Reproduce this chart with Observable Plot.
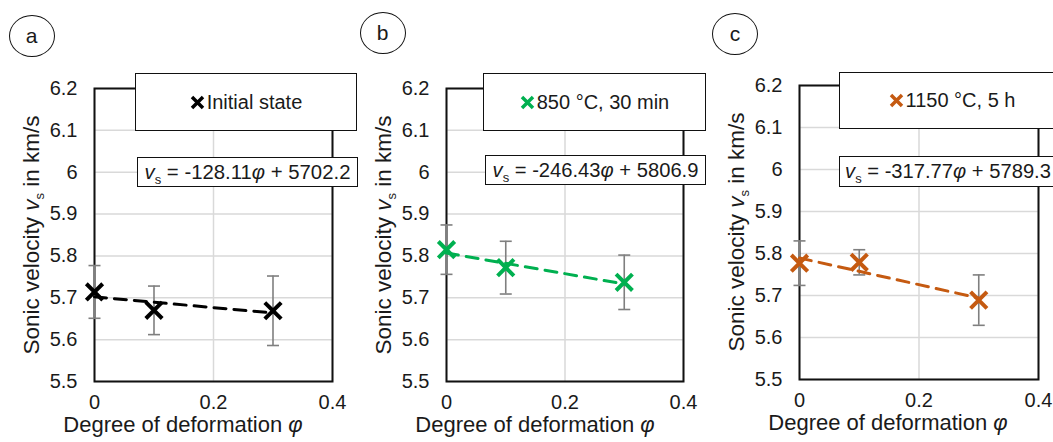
<!DOCTYPE html>
<html>
<head>
<meta charset="utf-8">
<script src="https://cdn.jsdelivr.net/npm/d3@7"></script>
<script src="https://cdn.jsdelivr.net/npm/@observablehq/plot@0.6"></script>
<style>
  html, body { margin: 0; padding: 0; background: #fff; overflow: hidden; }
  #wrap { position: relative; width: 1053px; height: 442px; overflow: hidden;
          font-family: "Liberation Sans", Arial, sans-serif; color: #1a1a1a; }
  .plot { position: absolute; }
  .panelTag { position: absolute; border: 1.6px solid #111; border-radius: 50%;
              display: flex; align-items: center; justify-content: center; font-size: 21px;
              box-sizing: border-box; transform: translate(-50%, -50%); }
  .legend { position: absolute; background: #fff; border: 1.6px solid #111; box-sizing: border-box;
            display: flex; align-items: center; justify-content: center; font-size: 20px; white-space: nowrap; }
  .legend svg { margin-right: 2px; }
  .eq { position: absolute; background: #fff; border: 1.6px solid #111; box-sizing: border-box;
        display: flex; align-items: center; justify-content: center; font-size: 20px;
        white-space: nowrap; }
  .sub { font-size: 13px; position: relative; top: 5px; }
  .ylab { position: absolute; white-space: nowrap; font-size: 22.5px; line-height: 1;
          transform: translate(-50%, -50%) rotate(-90deg); }
  .xlab { position: absolute; white-space: nowrap; font-size: 22px; line-height: 1;
          transform: translateX(-50%); }
</style>
</head>
<body>
<div id="wrap"></div>
<script>
// ---- data ----
const phi = [0, 0.1, 0.3];
const xTicks = [0, 0.2, 0.4];
const yTicks = [5.5, 5.6, 5.7, 5.8, 5.9, 6.0, 6.1, 6.2];

const seriesNames = ["Initial state", "850 °C, 30 min", "1150 °C, 5 h"];
const seriesColors = ["#000000", "#00B050", "#C55A11"];
const panelTags = ["a", "b", "c"];

const vInitial = [5.714, 5.670, 5.669];
const errInitial = [0.063, 0.058, 0.083];
const v850 = [5.815, 5.772, 5.737];
const err850 = [0.059, 0.063, 0.065];
const v1150 = [5.777, 5.779, 5.689];
const err1150 = [0.053, 0.030, 0.060];

const slopes = [-128.11, -246.43, -317.77];       // m/s per unit phi
const intercepts = [5702.2, 5806.9, 5789.3];      // m/s
const eqSlopeText = ["-128.11", "-246.43", "-317.77"];
const eqInterceptText = ["5702.2", "5806.9", "5789.3"];

const values = [vInitial, v850, v1150];
const errors = [errInitial, err850, err1150];

// ---- layout (page pixels) ----
const frames = [
  {left: 94, right: 332, top: 88, bottom: 381},
  {left: 446, right: 683, top: 88, bottom: 381},
  {left: 799, right: 1038, top: 85, bottom: 379}
];
const tagPos = [[31.7, 36], [382.5, 32.5], [735, 34]];
const legendBox = [[135, 73, 222, 58], [483, 73, 223, 58], [839, 72, 226, 57]];
const eqBox = [[137, 157, 221, 30], [485, 155, 221, 30], [839, 156, 218, 31]];
const eqTextWidth = 206;

const wrap = document.getElementById("wrap");
const fmt = d3.format("~g");
const mL = 70, mR = 12, mT = 12, mB = 45;

const capSymbol = { draw(ctx) { ctx.moveTo(-6, 0); ctx.lineTo(6, 0); } };

function el(cls, html, style) {
  const d = document.createElement("div");
  d.className = cls;
  d.innerHTML = html;
  Object.assign(d.style, style);
  wrap.appendChild(d);
  return d;
}

for (let k = 0; k < 3; k++) {
  const fr = frames[k];
  const color = seriesColors[k];
  const data = phi.map((p, i) => ({phi: p, v: values[k][i], e: errors[k][i]}));
  const trendX = [phi[0], phi[phi.length - 1]];
  const trend = trendX.map(p => ({phi: p, v: (slopes[k] * p + intercepts[k]) / 1000}));
  const W = fr.right - fr.left, H = fr.bottom - fr.top;

  const chart = Plot.plot({
    width: W + mL + mR,
    height: H + mT + mB,
    marginLeft: mL, marginRight: mR, marginTop: mT, marginBottom: mB,
    style: {fontFamily: '"Liberation Sans", Arial, sans-serif', fontSize: "20px",
            color: "#1a1a1a", background: "transparent", overflow: "visible"},
    x: {domain: [0, 0.4], ticks: xTicks, tickFormat: fmt, tickSize: 0, tickPadding: 13, label: null},
    y: {domain: [5.5, 6.2], ticks: yTicks, tickFormat: fmt, tickSize: 0, tickPadding: 17, label: null},
    marks: [
      Plot.gridY(yTicks, {stroke: "#d9d9d9", strokeOpacity: 1, strokeWidth: 1.5}),
      Plot.gridX(xTicks, {stroke: "#d9d9d9", strokeOpacity: 1, strokeWidth: 1.5}),
      Plot.frame({stroke: "#111", strokeWidth: 2}),
      Plot.ruleX(data, {x: "phi", y1: d => d.v - d.e, y2: d => d.v + d.e, stroke: "#7f7f7f", strokeWidth: 1.6}),
      Plot.dot(data, {x: "phi", y: d => d.v - d.e, symbol: capSymbol, fill: "none", stroke: "#7f7f7f", strokeWidth: 1.6}),
      Plot.dot(data, {x: "phi", y: d => d.v + d.e, symbol: capSymbol, fill: "none", stroke: "#7f7f7f", strokeWidth: 1.6}),
      Plot.line(trend, {x: "phi", y: "v", stroke: color, strokeWidth: 3, strokeDasharray: "12,8"}),
      Plot.dot(data, {x: "phi", y: "v", symbol: "times", r: 7.5, stroke: color, strokeWidth: 4})
    ]
  });
  chart.classList.add("plot");
  chart.style.left = (fr.left - mL) + "px";
  chart.style.top = (fr.top - mT) + "px";
  wrap.appendChild(chart);

  // y axis title
  el("ylab", 'Sonic velocity <i>v</i><span class="sub">s</span> in km/s',
     {left: (fr.left - 62) + "px", top: ((fr.top + fr.bottom) / 2) + "px"});
  // x axis title
  el("xlab", 'Degree of deformation <i>φ</i>',
     {left: (fr.left + 89) + "px", top: (fr.bottom + 33) + "px"});
  // panel tag
  el("panelTag", panelTags[k],
     {left: tagPos[k][0] + "px", top: tagPos[k][1] + "px", width: "46px", height: "42px"});
  // legend
  const lb = legendBox[k];
  el("legend",
     `<svg width="15" height="15" viewBox="-7.5 -7.5 15 15"><path d="M-5.5,-5.5L5.5,5.5M-5.5,5.5L5.5,-5.5" stroke="${color}" stroke-width="3.5" fill="none"/></svg>${seriesNames[k]}`,
     {left: lb[0] + "px", top: lb[1] + "px", width: lb[2] + "px", height: lb[3] + "px"});
  // equation
  const eb = eqBox[k];
  const box = el("eq",
     `<span class="eqt"><i>v</i><span class="sub">s</span> = ${eqSlopeText[k]}<i>φ</i> + ${eqInterceptText[k]}</span>`,
     {left: eb[0] + "px", top: eb[1] + "px", width: eb[2] + "px", height: eb[3] + "px"});
  // fit the equation text to the reference width
  const span = box.querySelector(".eqt");
  const w = span.getBoundingClientRect().width;
  if (w > 0) box.style.fontSize = (20 * eqTextWidth / w).toFixed(2) + "px";
}
</script>
</body>
</html>
